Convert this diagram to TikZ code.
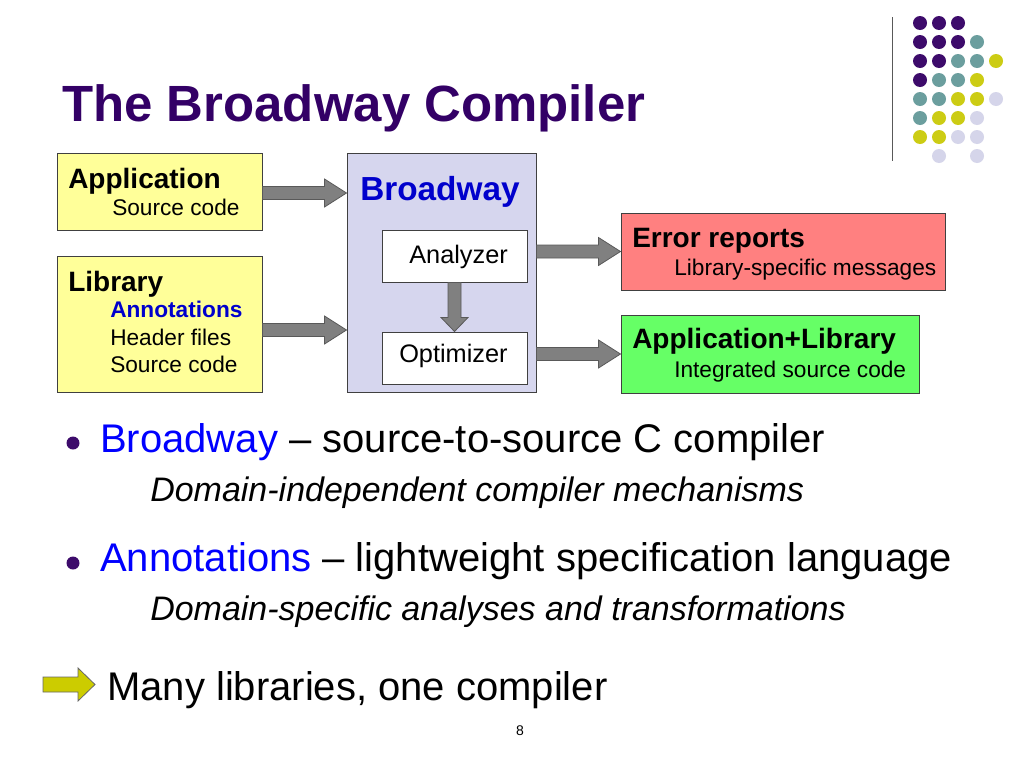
\documentclass[tikz,border=0pt]{standalone}
\usepackage{fontspec}
\setmainfont{Liberation Sans}
\usetikzlibrary{calc,fit}
\definecolor{titlepurple}{HTML}{330066}
\definecolor{dotP}{HTML}{3D0B6B}
\definecolor{dotT}{HTML}{6B9E9E}
\definecolor{dotY}{HTML}{CCCC14}
\definecolor{dotL}{HTML}{D5D5EA}
\definecolor{boxY}{HTML}{FFFF99}
\definecolor{boxB}{HTML}{D6D6EE}
\definecolor{boxR}{HTML}{FF8080}
\definecolor{boxG}{HTML}{66FF66}
\definecolor{arrG}{HTML}{808080}
\definecolor{bwblue}{HTML}{0000FF}
\definecolor{arrY}{HTML}{CCCC00}
\newcommand\hfat[2]{%
  \draw[fat] ($(#1)+(0,-6.5)$) -- ($(#2)+(-22,-6.5)$) -- ($(#2)+(-22,-14)$) -- (#2)
    -- ($(#2)+(-22,14)$) -- ($(#2)+(-22,6.5)$) -- ($(#1)+(0,6.5)$) -- cycle;}
\newcommand\vfat[2]{%
  \draw[fat] ($(#1)+(-6.5,0)$) -- ($(#2)+(-6.5,-14)$) -- ($(#2)+(-13.5,-14)$) -- (#2)
    -- ($(#2)+(13.5,-14)$) -- ($(#2)+(6.5,-14)$) -- ($(#1)+(6.5,0)$) -- cycle;}
\begin{document}
\begin{tikzpicture}[x=0.75pt,y=-0.75pt,
  box/.style={draw=black!75, line width=0.75pt, inner sep=0pt},
  lbl/.style={anchor=base west, inner sep=0pt},
  fat/.style={fill=arrG, draw=black!65, line width=0.6pt, line join=miter},
  head/.style={font=\bfseries\fontsize{21}{25}\selectfont},
  sub/.style={font=\fontsize{17}{20}\selectfont},
  inner/.style={font=\fontsize{19}{23}\selectfont},
  big/.style={font=\fontsize{30}{36}\selectfont},
  ital/.style={font=\itshape\fontsize{25.5}{30}\selectfont},
  dotc/.style={radius=7}]
\useasboundingbox[fill=white] (0,0) rectangle (1024,768);

% decoration: dots and line
\draw[black!65, line width=0.75pt] (892,17) -- (892,161);
\foreach \c/\x/\y in {P/920/23,P/939/23,P/958/23,
  P/920/42,P/939/42,P/958/42,T/977/42,
  P/920/61,P/939/61,T/958/61,T/977/61,Y/996/61,
  P/920/80,T/939/80,T/958/80,Y/977/80,
  T/920/99,T/939/99,Y/958/99,Y/977/99,L/996/99,
  T/920/118,Y/939/118,Y/958/118,L/977/118,
  Y/920/137,Y/939/137,L/958/137,L/977/137,
  L/939/156,L/977/156}
  \fill[dot\c] (\x,\y) circle[dotc];

% title
\node[lbl, text=titlepurple, font=\bfseries\fontsize{38.2}{46}\selectfont] (title) at (62,121) {The Broadway Compiler};

% boxes
\node[box, fill=boxY, fit={(57,153) (262,230)}] (app) {};
\node[box, fill=boxY, fit={(57,256) (262,392)}] (lib) {};
\node[box, fill=boxB, fit={(347,153) (536,392)}] (bw) {};
\node[box, fill=white, fit={(382,230) (527,282)}] (ana) {};
\node[box, fill=white, fit={(382,332) (527,384)}] (opt) {};
\node[box, fill=boxR, fit={(621,213) (945,290)}] (err) {};
\node[box, fill=boxG, fit={(621,315) (919,393)}] (out) {};

% box texts
\node[lbl, head] (appT) at (68,188) {Application};
\node[lbl, sub] (appS) at (112,215) {Source code};
\node[lbl, head] (libT) at (68,291) {Library};
\node[lbl, sub, font=\bfseries\fontsize{17}{20}\selectfont, text=bwblue!80!black] (libA) at (110,317) {Annotations};
\node[lbl, sub] (libH) at (110,345) {Header files};
\node[lbl, sub] (libS) at (110,372) {Source code};
\node[lbl, font=\bfseries\fontsize{25}{30}\selectfont, text=bwblue!80!black] (bwT) at (360,200) {Broadway};
\node[lbl, inner] (anaT) at (409,263) {Analyzer};
\node[lbl, inner] (optT) at (399,362) {Optimizer};
\node[lbl, head] (errT) at (632,247) {Error reports};
\node[lbl, sub] (errS) at (674,275) {Library-specific messages};
\node[lbl, head] (outT) at (632,348) {Application+Library};
\node[lbl, sub] (outS) at (674,377) {Integrated source code};

% fat arrows
\path (app.east) ++(0,1.5) coordinate (a1s);
\coordinate (a1e) at (a1s -| bw.west);
\hfat{a1s}{a1e}
\path (lib.east) ++(0,6) coordinate (a2s);
\coordinate (a2e) at (a2s -| bw.west);
\hfat{a2s}{a2e}
\coordinate (a3s) at (err.west -| bw.east);
\hfat{a3s}{err.west}
\coordinate (a4s) at (out.west -| bw.east);
\hfat{a4s}{out.west}
\vfat{ana.south}{opt.north}

% bullets
\fill[dotP] (73,443) circle[radius=6.5];
\node[lbl, big] (b1) at (100,452) {\textcolor{bwblue}{Broadway} – source-to-source C compiler};
\node[lbl, ital] (b1s) at (150,501) {Domain-independent compiler mechanisms};
\fill[dotP] (73,563) circle[radius=6.5];
\node[lbl, big] (b2) at (100,571) {\textcolor{bwblue}{Annotations} – lightweight specification language};
\node[lbl, ital] (b2s) at (150,620) {Domain-specific analyses and transformations};

% yellow arrow
\draw[fill=arrY, draw=black!60, line width=0.6pt, line join=miter]
  (43,677) -- (78,677) -- (78,668) -- (95,684.5) -- (78,701) -- (78,692) -- (43,692) -- cycle;
\node[lbl, big] (many) at (107,700) {Many libraries, one compiler};

% page number
\node[anchor=base, inner sep=0pt, font=\fontsize{10.5}{12}\selectfont] (pg) at (520,735) {8};
\end{tikzpicture}
\end{document}
